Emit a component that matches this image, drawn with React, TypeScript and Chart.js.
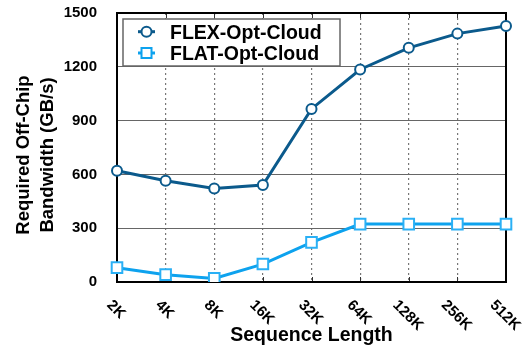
import React, { useEffect, useRef } from "react";
import { Chart, registerables } from "chart.js";

Chart.register(...registerables);

const categories = ["2K", "4K", "8K", "16K", "32K", "64K", "128K", "256K", "512K"];
const flexValues = [620, 565, 522, 541, 965, 1185, 1306, 1385, 1427];
const flatValues = [80, 41, 20, 100, 221, 323, 323, 323, 323];
const yTicks = [0, 300, 600, 900, 1200, 1500];
const seriesNames = ["FLEX-Opt-Cloud", "FLAT-Opt-Cloud"];
const yTitle = ["Required Off-Chip", "Bandwidth (GB/s)"];
const xTitle = "Sequence Length";

const FLEX_COLOR = "#0b5a8c";
const FLAT_COLOR = "#0da2ee";
const FONT = "'Liberation Sans', Arial, Helvetica, sans-serif";

const customPlugin = {
  id: "custom",
  beforeDatasetsDraw(chart: any) {
    const { ctx, chartArea } = chart;
    const xs = chart.scales.x;
    ctx.save();
    // small inner tick marks
    ctx.strokeStyle = "#333";
    ctx.lineWidth = 1;
    for (let i = 0; i < categories.length; i++) {
      const x = Math.round(xs.getPixelForValue(i)) + 0.5;
      ctx.beginPath();
      ctx.moveTo(x, chartArea.bottom);
      ctx.lineTo(x, chartArea.bottom - 5);
      ctx.moveTo(x, chartArea.top);
      ctx.lineTo(x, chartArea.top + 5);
      ctx.stroke();
    }
    // border
    ctx.strokeStyle = "#000";
    ctx.lineWidth = 2;
    ctx.strokeRect(chartArea.left, chartArea.top, chartArea.right - chartArea.left, chartArea.bottom - chartArea.top);
    ctx.restore();
  },
  afterDraw(chart: any) {
    const { ctx, chartArea } = chart;
    const xs = chart.scales.x;
    ctx.save();
    ctx.fillStyle = "#000";
    // x tick labels rotated +45deg
    ctx.font = `bold 15px ${FONT}`;
    const capH = 11;
    categories.forEach((c, i) => {
      const x = xs.getPixelForValue(i);
      const w = ctx.measureText(c).width;
      const cy = chartArea.bottom + 16 + (w + capH) * 0.354;
      ctx.save();
      ctx.translate(x, cy);
      ctx.rotate(Math.PI / 4);
      ctx.textAlign = "center";
      ctx.textBaseline = "alphabetic";
      ctx.fillText(c, 0, capH / 2);
      ctx.restore();
    });
    // x title
    ctx.font = `bold 19.5px ${FONT}`;
    ctx.textAlign = "center";
    ctx.textBaseline = "alphabetic";
    ctx.fillText(xTitle, (chartArea.left + chartArea.right) / 2, 341);
    // y title
    ctx.font = `bold 18.5px ${FONT}`;
    const midY = 155;
    [29, 53].forEach((bx, k) => {
      ctx.save();
      ctx.translate(bx, midY);
      ctx.rotate(-Math.PI / 2);
      ctx.textAlign = "center";
      ctx.textBaseline = "alphabetic";
      ctx.fillText(yTitle[k], 0, 0);
      ctx.restore();
    });
    // legend
    const lx = 123, ly = 19, lw = 217, lh = 47;
    ctx.fillStyle = "#fff";
    ctx.fillRect(lx, ly, lw, lh);
    ctx.strokeStyle = "#666";
    ctx.lineWidth = 1.5;
    ctx.strokeRect(lx, ly, lw, lh);
    const rows = [31.7, 53];
    const colors = [FLEX_COLOR, FLAT_COLOR];
    rows.forEach((ry, k) => {
      ctx.strokeStyle = colors[k];
      ctx.lineWidth = 3;
      ctx.beginPath();
      ctx.moveTo(138, ry);
      ctx.lineTo(155, ry);
      ctx.stroke();
      ctx.fillStyle = "#fff";
      ctx.lineWidth = 2;
      ctx.beginPath();
      if (k === 0) {
        ctx.arc(146.5, ry, 5, 0, Math.PI * 2);
      } else {
        ctx.rect(146.5 - 5, ry - 5, 10, 10);
      }
      ctx.fill();
      ctx.stroke();
      ctx.fillStyle = "#000";
      ctx.font = `bold 19.5px ${FONT}`;
      ctx.textAlign = "left";
      ctx.textBaseline = "alphabetic";
      ctx.fillText(seriesNames[k], 170, ry + 7);
    });
    ctx.restore();
  },
};

export default function App() {
  const ref = useRef<HTMLCanvasElement>(null);
  useEffect(() => {
    if (!ref.current) return;
    const chart = new Chart(ref.current, {
      type: "line",
      data: {
        labels: categories,
        datasets: [
          {
            label: seriesNames[0],
            data: flexValues,
            borderColor: FLEX_COLOR,
            backgroundColor: "#fff",
            borderWidth: 3,
            pointStyle: "circle",
            pointRadius: 5,
            pointBorderWidth: 2,
            pointBackgroundColor: "#fff",
            pointBorderColor: FLEX_COLOR,
            tension: 0,
          },
          {
            label: seriesNames[1],
            data: flatValues,
            borderColor: FLAT_COLOR,
            backgroundColor: "#fff",
            borderWidth: 3,
            pointStyle: "rect",
            pointRadius: 7.5,
            pointBorderWidth: 2,
            pointBackgroundColor: "#fff",
            pointBorderColor: "#2ab0f5",
            tension: 0,
          },
        ],
      },
      options: {
        animation: false,
        responsive: false,
        devicePixelRatio: 1,
        layout: { padding: { top: 13, right: 23, left: 0, bottom: 0 } },
        plugins: { legend: { display: false }, tooltip: { enabled: false } },
        scales: {
          x: {
            type: "category",
            offset: false,
            ticks: { display: false },
            grid: { display: true, color: "#777", lineWidth: 1.2, drawTicks: false, offset: false },
            border: { display: false, dash: [2, 3] },
            afterFit: (s: any) => {
              s.height = 66;
              s.paddingLeft = 0;
              s.paddingRight = 0;
            },
          },
          y: {
            min: 0,
            max: 1500,
            afterBuildTicks: (s: any) => {
              s.ticks = yTicks.map((v) => ({ value: v }));
            },
            ticks: {
              color: "#000",
              font: { family: FONT, size: 15, weight: "bold" },
              padding: 20,
              callback: (v: any) => String(v),
            },
            grid: { color: "#666", lineWidth: 1, drawTicks: false },
            border: { display: false },
            afterFit: (s: any) => {
              s.width = 117;
              s.paddingTop = 0;
              s.paddingBottom = 0;
            },
          },
        },
      },
      plugins: [customPlugin],
    } as any);
    return () => chart.destroy();
  }, []);
  return (
    <div style={{ position: "absolute", left: 0, top: 0, width: 529, height: 348, background: "#fff" }}>
      <canvas ref={ref} width={529} height={348} style={{ width: 529, height: 348 }} />
    </div>
  );
}
